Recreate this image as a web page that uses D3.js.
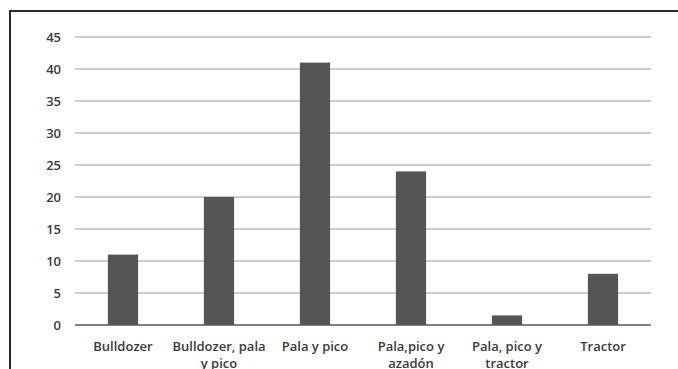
<!DOCTYPE html>
<html>
<head>
<meta charset="utf-8">
<script src="https://cdn.jsdelivr.net/npm/d3@7"></script>
<style>
  html, body { margin: 0; padding: 0; background: #fff; }
  svg { display: block; }
  text { font-family: "Open Sans", sans-serif; font-weight: 600; font-size: 13px; fill: #3a3a3a; }
</style>
</head>
<body>
<svg id="chart" width="678" height="369"></svg>
<script>
// Herramientas utilizadas
const categories = ["Bulldozer", "Bulldozer, pala y pico", "Pala y pico", "Pala,pico y azadón", "Pala, pico y tractor", "Tractor"];
const values = [11, 20, 41, 24, 1.5, 8];
const yTicks = [0, 5, 10, 15, 20, 25, 30, 35, 40, 45];

const svg = d3.select("#chart");
const plotLeft = 75, plotRight = 651, plotTop = 37, plotBottom = 325;

// frame around the chart area
svg.append("rect")
  .attr("x", 10).attr("y", 11)
  .attr("width", 700).attr("height", 400)
  .attr("fill", "none").attr("stroke", "#2a2a2a").attr("stroke-width", 2);

const x = d3.scaleBand().domain(categories).range([plotLeft, plotRight]).padding(0);
const y = d3.scaleLinear().domain([0, 45]).range([plotBottom, plotTop]);

// horizontal gridlines
svg.append("g")
  .selectAll("line")
  .data(yTicks.filter(d => d > 0))
  .join("line")
  .attr("x1", plotLeft).attr("x2", plotRight)
  .attr("y1", d => y(d)).attr("y2", d => y(d))
  .attr("stroke", "#bdbdbd").attr("stroke-width", 1.5);

// y axis labels
const yAxis = d3.axisLeft(y).tickValues(yTicks).tickSize(0).tickPadding(0);
svg.append("g")
  .attr("transform", `translate(${plotLeft - 14},0)`)
  .call(yAxis)
  .call(g => g.select(".domain").remove())
  .call(g => g.selectAll("text").attr("fill", "#3a3a3a").style("font-family", "'Open Sans', sans-serif").style("font-weight", 600).style("font-size", "13px"));

// bars
const barW = x.bandwidth() * 0.315;
svg.append("g")
  .selectAll("rect")
  .data(values)
  .join("rect")
  .attr("x", (d, i) => x(categories[i]) + (x.bandwidth() - barW) / 2)
  .attr("y", d => y(d))
  .attr("width", barW)
  .attr("height", d => y(0) - y(d))
  .attr("fill", "#555555");

// baseline
svg.append("line")
  .attr("x1", plotLeft).attr("x2", plotRight)
  .attr("y1", y(0)).attr("y2", y(0))
  .attr("stroke", "#555555").attr("stroke-width", 1.5);

// x axis labels with wrapping
const xAxis = d3.axisBottom(x).tickSize(0).tickPadding(0);
const gx = svg.append("g")
  .attr("transform", `translate(0,${plotBottom + 26})`)
  .call(xAxis);
gx.select(".domain").remove();
gx.selectAll("text")
  .attr("fill", "#3a3a3a")
  .style("font-family", "'Open Sans', sans-serif")
  .style("font-weight", 600)
  .style("font-size", "13px")
  .attr("dy", null)
  .attr("y", 0)
  .each(function (d) {
    const t = d3.select(this);
    const words = d.split(" ");
    const maxW = x.bandwidth() - 2;
    t.text(null);
    let line = [];
    let tspan = t.append("tspan").attr("x", 0).attr("dy", 0);
    for (const w of words) {
      line.push(w);
      tspan.text(line.join(" "));
      if (tspan.node().getComputedTextLength() > maxW && line.length > 1) {
        line.pop();
        tspan.text(line.join(" "));
        line = [w];
        tspan = t.append("tspan").attr("x", 0).attr("dy", "17px").text(w);
      }
    }
  });
</script>
</body>
</html>
